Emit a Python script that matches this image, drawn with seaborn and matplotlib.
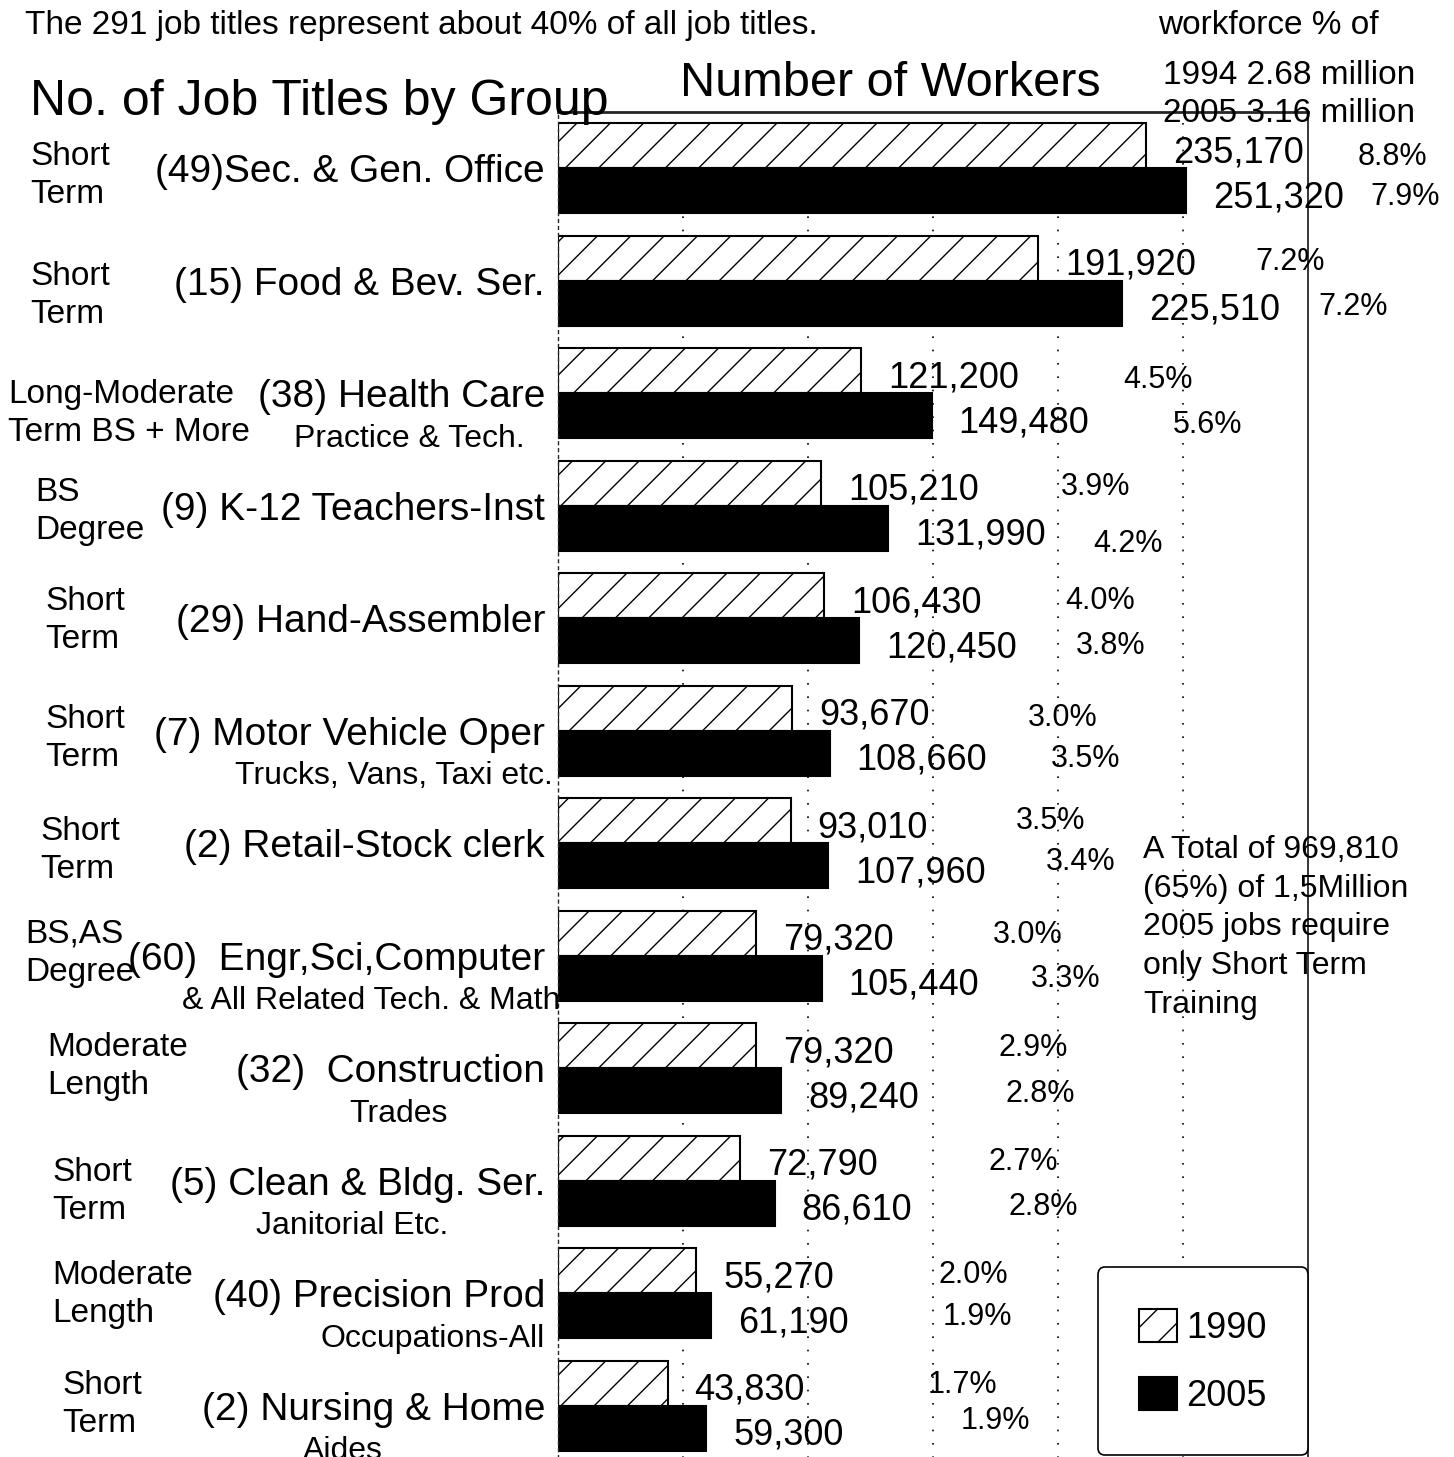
# horizontal bar chart: number of workers by job group, 1990 vs 2005

import pandas as pd
import seaborn as sns
import matplotlib.pyplot as plt

# ---- data ----
groups = ["(49)Sec. & Gen. Office", "(15) Food & Bev. Ser.", "(38) Health Care",
          "(9) K-12 Teachers-Inst", "(29) Hand-Assembler", "(7) Motor Vehicle Oper",
          "(2) Retail-Stock clerk", "(60)  Engr,Sci,Computer", "(32)  Construction",
          "(5) Clean & Bldg. Ser.", "(40) Precision Prod", "(2) Nursing & Home"]
sub_labels = ["", "", "Practice & Tech.", "", "", "Trucks, Vans, Taxi etc.", "",
              "& All Related Tech. & Math", "Trades", "Janitorial Etc.",
              "Occupations-All", "Aides"]
training = ["Short\nTerm", "Short\nTerm", "Long-Moderate\nTerm BS + More", "BS\nDegree",
            "Short\nTerm", "Short\nTerm", "Short\nTerm", "BS,AS\nDegree",
            "Moderate\nLength", "Short\nTerm", "Moderate\nLength", "Short\nTerm"]
years = ["1990", "2005"]
workers_1990 = [235170, 191920, 121200, 105210, 106430, 93670, 93010, 79320, 79320, 72790, 55270, 43830]
workers_2005 = [251320, 225510, 149480, 131990, 120450, 108660, 107960, 105440, 89240, 86610, 61190, 59300]
pct_1990 = ["8.8%", "7.2%", "4.5%", "3.9%", "4.0%", "3.0%", "3.5%", "3.0%", "2.9%", "2.7%", "2.0%", "1.7%"]
pct_2005 = ["7.9%", "7.2%", "5.6%", "4.2%", "3.8%", "3.5%", "3.4%", "3.3%", "2.8%", "2.8%", "1.9%", "1.9%"]

# ---- layout of the loose annotations (pixels of the 1454x1457 page / workers) ----
W, H = 1454, 1457
AX_LEFT, AX_RIGHT, AX_TOP, AX_BOTTOM = 558, 1308, 112, 1462
term_x = [30, 30, 8, 35, 45, 45, 40, 25, 47, 52, 52, 62]
term_dy = [-15, -8, -2, -17, -20, -15, -15, -25, -24, -12, -21, -24]
sub_right = [0, 0, 525, 0, 0, 553, 0, 560, 448, 448, 545, 383]
pct_pos_1990 = [320000, 279000, 226000, 201000, 203000, 188000, 183000, 174000, 176000, 172000, 152000, 148000]
pct_pos_2005 = [325000, 304000, 246000, 214000, 207000, 197000, 195000, 189000, 179000, 180000, 154000, 161000]
pct_dy_1990 = [8, 0, 6, 0, 2, 6, -3, -2, -1, 0, 1, -2]
pct_dy_2005 = [3, 0, 6, 12, 2, 2, -7, -3, 0, 0, -2, -11]

df = pd.DataFrame({
    "group": groups * 2,
    "year": [years[0]] * len(groups) + [years[1]] * len(groups),
    "workers": workers_1990 + workers_2005,
})

sns.set_style("white")
plt.rcParams["font.family"] = ["Liberation Sans", "DejaVu Sans"]
plt.rcParams["hatch.linewidth"] = 1.0
plt.rcParams["text.color"] = "black"
plt.rcParams["ytick.color"] = "black"
plt.rcParams["ytick.labelcolor"] = "black"


def fpx(x, y):
    return x / W, 1 - y / H


def pt(px):
    return px * 72 / 100


def main():
    fig = plt.figure(figsize=(W / 100, H / 100), dpi=100)
    ax = fig.add_axes([AX_LEFT / W, 1 - AX_BOTTOM / H,
                       (AX_RIGHT - AX_LEFT) / W, (AX_BOTTOM - AX_TOP) / H])

    sns.barplot(data=df, y="group", x="workers", hue="year", hue_order=years,
                orient="h", palette={"1990": "white", "2005": "black"},
                saturation=1, edgecolor="black", linewidth=1.5, width=0.8,
                legend=False, ax=ax)
    for p in ax.containers[0].patches:
        p.set_hatch("/")

    ax.set_xlim(0, 300000)
    ax.set_ylim(len(groups) - 0.5, -0.5)
    ax.set_xticks([50000, 100000, 150000, 200000, 250000])
    ax.set_xticklabels([])
    ax.tick_params(axis="x", length=0)
    ax.xaxis.grid(True, color="black", linestyle=(0, (1, 7)), linewidth=1.2)
    ax.set_xlabel("")
    ax.set_ylabel("")
    ax.tick_params(axis="y", length=0, pad=pt(13), labelsize=28, labelcolor="black")
    ax.spines["top"].set_linewidth(2)
    ax.spines["right"].set_linewidth(1.3)
    ax.spines["left"].set_linestyle((0, (2, 3)))
    ax.spines["left"].set_linewidth(1)
    ax.spines["bottom"].set_visible(False)

    ytr = ax.get_yaxis_transform()
    frac = lambda px: (px - AX_LEFT) / (AX_RIGHT - AX_LEFT)

    # training level and sub labels
    for i in range(len(groups)):
        ax.annotate(training[i], xy=(frac(term_x[i]), i), xycoords=ytr,
                    xytext=(0, -pt(term_dy[i] - 12)), textcoords="offset points",
                    ha="left", va="top", fontsize=24, linespacing=1.3,
                    annotation_clip=False)
        if sub_labels[i]:
            ax.annotate(sub_labels[i], xy=(frac(sub_right[i]), i), xycoords=ytr,
                        xytext=(0, -pt(42)), textcoords="offset points",
                        ha="right", va="center_baseline", fontsize=23,
                        annotation_clip=False)

    # value and share labels
    for cont, vals, pcts, ppos, pdy in [
            (ax.containers[0], workers_1990, pct_1990, pct_pos_1990, pct_dy_1990),
            (ax.containers[1], workers_2005, pct_2005, pct_pos_2005, pct_dy_2005)]:
        bars = sorted(cont.patches, key=lambda b: b.get_y())
        for b, v, pc, px_, dy in zip(bars, vals, pcts, ppos, pdy):
            yc = b.get_y() + b.get_height() / 2
            ax.annotate(f"{v:,}", xy=(b.get_width(), yc), xytext=(pt(27), -pt(3)),
                        textcoords="offset points", ha="left", va="center_baseline",
                        fontsize=26, annotation_clip=False)
            ax.annotate(pc, xy=(px_, yc), xytext=(0, -pt(dy)),
                        textcoords="offset points", ha="left", va="center_baseline",
                        fontsize=22, annotation_clip=False)

    # header texts
    fig.text(*fpx(25, 22), "The 291 job titles represent about 40% of all job titles.",
             ha="left", va="center_baseline", fontsize=24)
    fig.text(*fpx(1158, 22), "workforce % of", ha="left", va="center_baseline", fontsize=24)
    fig.text(*fpx(1163, 72), "1994 2.68 million", ha="left", va="center_baseline", fontsize=24)
    fig.text(*fpx(1163, 110), "2005 3.16 million", ha="left", va="center_baseline", fontsize=24)
    fig.text(*fpx(30, 97), "No. of Job Titles by Group", ha="left", va="center_baseline",
             fontsize=36)
    fig.text(*fpx(680, 79), "Number of Workers", ha="left", va="center_baseline", fontsize=35)
    fig.text(*fpx(1143, 835),
             "A Total of 969,810\n(65%) of 1,5Million\n2005 jobs require\nonly Short Term\nTraining",
             ha="left", va="top", fontsize=23, linespacing=1.38)

    leg = ax.legend(ax.containers, years, loc="lower right",
                    bbox_to_anchor=(1.0, 0.005), fontsize=26, frameon=True,
                    fancybox=True, edgecolor="black", framealpha=1,
                    handlelength=1.05, handleheight=1.05, handletextpad=0.25,
                    labelspacing=0.85, borderpad=1.15, borderaxespad=0)
    leg.get_frame().set_linewidth(1.2)
    for t in leg.get_texts():
        t.set_color("black")

    fig.savefig("out.png", dpi=100)


if __name__ == "__main__":
    main()
